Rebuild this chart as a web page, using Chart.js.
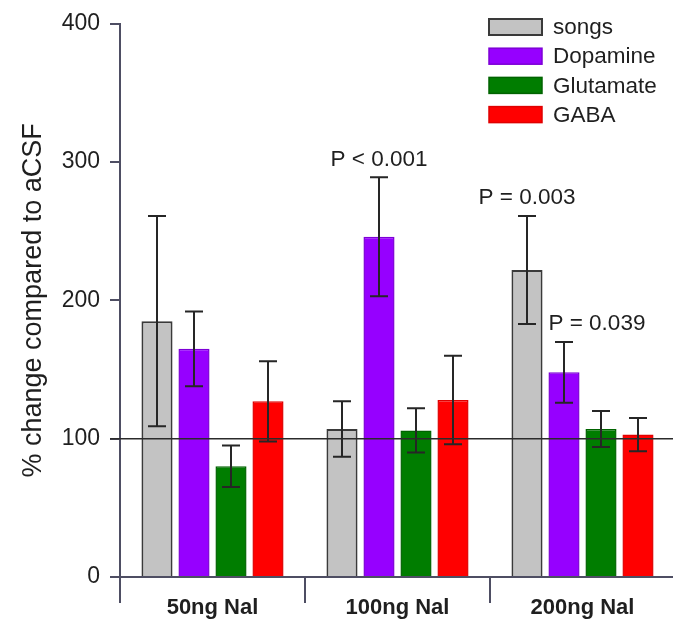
<!DOCTYPE html>
<html>
<head>
<meta charset="utf-8">
<script src="https://cdn.jsdelivr.net/npm/chart.js@4.4.1/dist/chart.umd.min.js"></script>
<style>
  html, body { margin: 0; padding: 0; background: #ffffff; overflow: hidden; }
  #wrap { width: 673px; height: 619px; overflow: hidden; position: relative; }
  canvas { display: block; }
</style>
</head>
<body>
<div id="wrap"><canvas id="chart" width="680" height="619"></canvas></div>
<script>
// Doses of naloxone given
const categories = ['50ng Nal', '100ng Nal', '200ng Nal'];

// Mean % change compared to aCSF and the error half-width for each measure
const songs = [185, 107, 222];
const songsErr = [76, 20, 39];
const dopamine = [165, 246, 148];
const dopamineErr = [27, 43, 22];
const glutamate = [80, 106, 107];
const glutamateErr = [15, 16, 13];
const gaba = [127, 128, 103];
const gabaErr = [29, 32, 12];

// Y axis tick values
const yTicks = [0, 100, 200, 300, 400];

// Significance labels: text, series index, dose index
const pTexts = ['P < 0.001', 'P = 0.003', 'P = 0.039'];
const pSeries = [1, 0, 1];
const pDose = [1, 2, 2];

const FONT = "'Liberation Sans', Arial, sans-serif";
const AXIS = '#4e4e63';
const INK = '#1f1f1f';

const datasets = [
  { label: 'songs', data: songs, err: songsErr, backgroundColor: '#c3c3c3', borderColor: '#3a3a3a', borderWidth: 2 },
  { label: 'Dopamine', data: dopamine, err: dopamineErr, backgroundColor: '#9600ff', borderColor: '#7d00d6', borderWidth: 1.5 },
  { label: 'Glutamate', data: glutamate, err: glutamateErr, backgroundColor: '#007d00', borderColor: '#006300', borderWidth: 1.5 },
  { label: 'GABA', data: gaba, err: gabaErr, backgroundColor: '#ff0000', borderColor: '#e00000', borderWidth: 1.5 }
];

// Error bars with caps, drawn on top of the bars
const errorBars = {
  id: 'errorBars',
  afterDatasetsDraw(chart) {
    const { ctx, scales: { y } } = chart;
    ctx.save();
    ctx.strokeStyle = '#262626';
    ctx.lineWidth = 2;
    chart.data.datasets.forEach((ds, di) => {
      const meta = chart.getDatasetMeta(di);
      meta.data.forEach((bar, i) => {
        const v = ds.data[i], e = ds.err[i];
        const yt = y.getPixelForValue(v + e);
        const yb = y.getPixelForValue(v - e);
        const cap = 9;
        ctx.beginPath();
        ctx.moveTo(bar.x, yt); ctx.lineTo(bar.x, yb);
        ctx.moveTo(bar.x - cap, yt); ctx.lineTo(bar.x + cap, yt);
        ctx.moveTo(bar.x - cap, yb); ctx.lineTo(bar.x + cap, yb);
        ctx.stroke();
      });
    });
    ctx.restore();
  }
};

// Horizontal reference line at 100 % (aCSF level)
const baseline = {
  id: 'baseline',
  afterDatasetsDraw(chart) {
    const { ctx, chartArea, scales: { y } } = chart;
    const py = y.getPixelForValue(100);
    ctx.save();
    ctx.strokeStyle = '#2b2b2b';
    ctx.lineWidth = 1.5;
    ctx.beginPath();
    ctx.moveTo(chartArea.left - 10, py);
    ctx.lineTo(chartArea.right, py);
    ctx.stroke();
    ctx.restore();
  }
};

// P-value labels above the marked bars
const pLabels = {
  id: 'pLabels',
  afterDraw(chart) {
    const { ctx, scales: { y } } = chart;
    ctx.save();
    ctx.font = '22.5px ' + FONT;
    ctx.fillStyle = INK;
    ctx.textBaseline = 'middle';
    pTexts.forEach((t, k) => {
      const si = pSeries[k], di = pDose[k];
      const bar = chart.getDatasetMeta(si).data[di];
      const ds = chart.data.datasets[si];
      const py = y.getPixelForValue(ds.data[di] + ds.err[di]) - 18;
      if (k === 2) {
        ctx.textAlign = 'left';
        ctx.fillText(t, bar.x - bar.width / 2, py);
      } else {
        ctx.textAlign = 'center';
        ctx.fillText(t, bar.x, py);
      }
    });
    ctx.restore();
  }
};

// Legend box in the upper right
const legendBox = {
  id: 'legendBox',
  afterDraw(chart) {
    const { ctx } = chart;
    ctx.save();
    ctx.font = '22.5px ' + FONT;
    ctx.textBaseline = 'middle';
    ctx.textAlign = 'left';
    chart.data.datasets.forEach((ds, i) => {
      const cy = 27 + i * 29.2;
      ctx.fillStyle = ds.backgroundColor;
      ctx.fillRect(489, cy - 8, 53, 16);
      ctx.strokeStyle = ds.borderColor;
      ctx.lineWidth = ds.borderWidth;
      ctx.strokeRect(489, cy - 8, 53, 16);
      ctx.fillStyle = INK;
      ctx.fillText(ds.label, 553, cy + 1);
    });
    ctx.restore();
  }
};

new Chart(document.getElementById('chart'), {
  type: 'bar',
  data: { labels: categories, datasets },
  options: {
    responsive: false,
    animation: false,
    devicePixelRatio: 1,
    layout: { padding: { top: 23, right: 5, left: 0, bottom: 0 } },
    datasets: { bar: { categoryPercentage: 0.8, barPercentage: 0.84 } },
    plugins: { legend: { display: false }, tooltip: { enabled: false } },
    scales: {
      x: {
        offset: true,
        afterFit(s) { s.height = 42; },
        border: { display: true, color: AXIS, width: 2 },
        grid: { display: true, offset: true, drawOnChartArea: false, drawTicks: true, tickLength: 26, color: AXIS, lineWidth: 2 },
        ticks: { color: INK, padding: -8, font: { family: FONT, size: 22, weight: 'bold' } }
      },
      y: {
        min: 0,
        max: 400,
        afterFit(s) { s.width = 120; },
        afterBuildTicks(s) { s.ticks = yTicks.map(v => ({ value: v })); },
        border: { display: true, color: AXIS, width: 2 },
        grid: { display: true, drawOnChartArea: false, drawTicks: true, tickLength: 10, color: AXIS, lineWidth: 2 },
        ticks: { color: INK, padding: 10, font: { family: FONT, size: 23 } },
        title: {
          display: true,
          text: '% change compared to aCSF',
          color: INK,
          padding: { top: 17, bottom: 0 },
          font: { family: FONT, size: 27 }
        }
      }
    }
  },
  plugins: [errorBars, baseline, pLabels, legendBox]
});
</script>
</body>
</html>
